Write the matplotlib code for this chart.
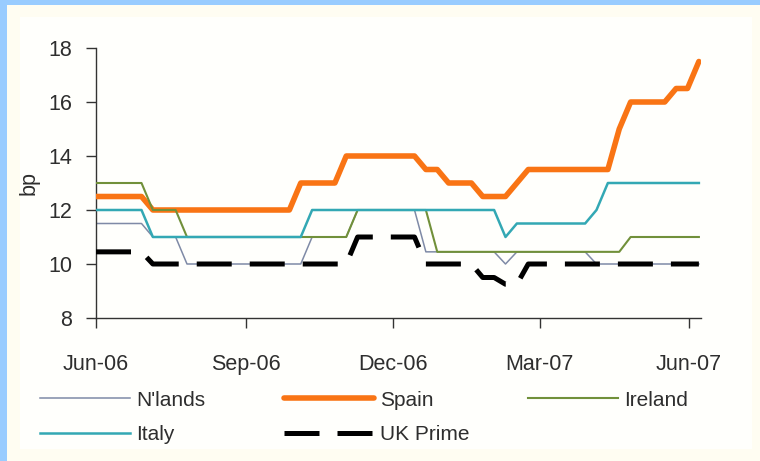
import matplotlib
matplotlib.use("Agg")
import matplotlib.pyplot as plt
from matplotlib.patches import Rectangle
import pandas as pd

plt.rcParams['font.family'] = ['Liberation Sans', 'DejaVu Sans']

# Weekly observations, June 2006 - June 2007 (bp)
weeks = pd.date_range('2006-06-01', periods=54, freq='7D')

nlands = ([11.5] * 5 + [11] * 3 + [10] * 11 + [11] * 4 + [12] * 6 +
          [10.45] * 7 + [10] + [10.45] * 7 + [10] * 10)
spain = ([12.5] * 5 + [12] * 13 + [13] * 4 + [14] * 7 + [13.5] * 2 +
         [13] * 3 + [12.5] * 3 + [13] + [13.5] * 8 + [15] + [16] * 4 +
         [16.5] * 2 + [17.5])
ireland = [13] * 5 + [12] * 3 + [11] * 15 + [12] * 7 + [10.45] * 17 + [11] * 7
italy = [12] * 5 + [11] * 14 + [12] * 17 + [11] + [11.5] * 7 + [12] + [13] * 9
uk_prime = [10.45] * 5 + [10] * 18 + [11] * 6 + [10] * 5 + [9.5] * 2 + [9.25] * 2 + [10] * 16

tick_dates = pd.to_datetime(['2006-06-01', '2006-09-01', '2006-12-01',
                             '2007-03-01', '2007-06-01'])
tick_labels = ['Jun-06', 'Sep-06', 'Dec-06', 'Mar-07', 'Jun-07']
y_ticks = [8, 10, 12, 14, 16, 18]

colors = {
    "N'lands": '#7F8AA6',
    'Spain': '#F97414',
    'Ireland': '#71903A',
    'Italy': '#33A8B4',
    'UK Prime': '#000000',
}
text_color = '#2E2E2E'

W, H = 760, 461
fig = plt.figure(figsize=(W / 100, H / 100), dpi=100, facecolor='#FFFDF2')

# white chart panel on a cream page, light blue frame along top and left
panels = [
    ((20 / W, 12 / H), (W - 28) / W, (H - 29) / H, '#FFFFFC'),
    ((0, 0), 7 / W, 1, '#99CCFF'),
    ((0, 1 - 5 / H), 1, 5 / H, '#99CCFF'),
]
for xy, w, h, fc in panels:
    fig.patches.append(Rectangle(xy, w, h, transform=fig.transFigure,
                                 facecolor=fc, edgecolor='none', zorder=-5))

ax = fig.add_axes([96 / W, 1 - 318 / H, (700.5 - 96) / W, (318 - 48) / H])
ax.set_zorder(2)
ax.set_facecolor('none')

ln_nl, = ax.plot(weeks, nlands, color=colors["N'lands"], lw=1.1, zorder=2)
ln_es, = ax.plot(weeks, spain, color=colors['Spain'], lw=4.0, zorder=3,
                 solid_joinstyle='round', solid_capstyle='round')
ln_ie, = ax.plot(weeks, ireland, color=colors['Ireland'], lw=1.5, zorder=4)
ln_it, = ax.plot(weeks, italy, color=colors['Italy'], lw=1.8, zorder=5)
ln_uk, = ax.plot(weeks, uk_prime, color=colors['UK Prime'], lw=3.6, zorder=6,
                 dashes=(7, 3.6), dash_capstyle='butt', dash_joinstyle='round')

ax.set_ylim(8, 18)
ax.set_xlim(pd.Timestamp('2006-06-01'), pd.Timestamp('2007-06-08'))
ax.set_yticks(y_ticks)
ax.set_xticks(tick_dates)
ax.set_xticklabels(tick_labels)

for side in ('top', 'right'):
    ax.spines[side].set_visible(False)
for side in ('left', 'bottom'):
    ax.spines[side].set_color('#333333')
    ax.spines[side].set_linewidth(1.0)

ax.tick_params(axis='y', direction='out', length=7.2, width=1.0, color='#333333',
               labelsize=15.5, labelcolor=text_color, pad=10)
ax.tick_params(axis='x', direction='out', length=7.2, width=1.0, color='#333333',
               labelsize=15.5, labelcolor=text_color, pad=19)
ax.set_ylabel('bp', fontsize=15.5, color=text_color, labelpad=6)

legend_kw = dict(loc='upper left', frameon=False, fontsize=15, borderpad=0,
                 borderaxespad=0, handlelength=4.3, handletextpad=0.3,
                 labelspacing=0.75, labelcolor=text_color)
columns = [
    ([ln_nl, ln_it], ["N'lands", 'Italy'], 40),
    ([ln_es, ln_uk], ['Spain', 'UK Prime'], 284),
    ([ln_ie], ['Ireland'], 528),
]
for handles, labels, x0 in columns:
    fig.legend(handles, labels, bbox_to_anchor=(x0 / W, 1 - 390.5 / H),
               bbox_transform=fig.transFigure, **legend_kw)

fig.savefig('out.png', dpi=100, facecolor=fig.get_facecolor())
